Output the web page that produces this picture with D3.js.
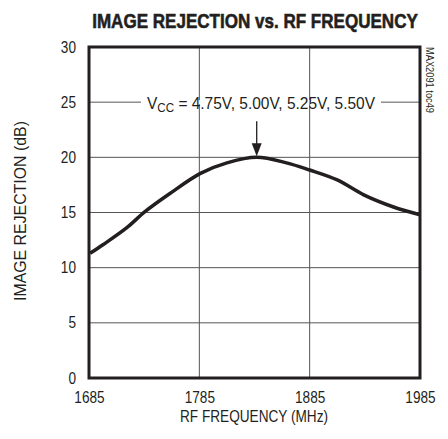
<!DOCTYPE html>
<html>
<head>
<meta charset="utf-8">
<script src="https://cdn.jsdelivr.net/npm/d3@7"></script>
<style>
  body { margin: 0; background: #fff; }
  svg text { font-family: "Liberation Sans Narrow", "Liberation Sans", Arial, sans-serif; fill: #231f20; }
</style>
</head>
<body>
<div id="chart"></div>
<script>
// data
const freqs = [1686, 1698, 1719, 1736, 1758, 1786, 1810, 1837, 1864, 1885, 1910, 1934, 1961, 1985];
const rejection = [11.3, 12.1, 13.6, 15.1, 16.7, 18.55, 19.5, 20.0, 19.5, 18.85, 17.95, 16.6, 15.5, 14.8];
const xTicks = [1685, 1785, 1885, 1985];
const yTicks = [0, 5, 10, 15, 20, 25, 30];

const w = 448, h = 439;
const margin = {left: 89, right: 28, top: 47, bottom: 61};

const svg = d3.select("#chart").append("svg")
  .attr("width", w).attr("height", h);

const xScale = d3.scaleLinear().domain([1685, 1985]).range([margin.left, w - margin.right]);
const yScale = d3.scaleLinear().domain([0, 30]).range([h - margin.bottom, margin.top]);

// squeeze text horizontally to look like the condensed face
function narrow(sel, k) {
  sel.each(function() {
    const len = this.getComputedTextLength();
    d3.select(this).attr("textLength", len * k).attr("lengthAdjust", "spacingAndGlyphs");
  });
}

// grid
svg.append("g").selectAll("line").data(xTicks.slice(1, -1)).enter().append("line")
  .attr("x1", d => xScale(d)).attr("x2", d => xScale(d))
  .attr("y1", yScale(30)).attr("y2", yScale(0))
  .attr("stroke", "#555").attr("stroke-width", 1);
svg.append("g").selectAll("line").data(yTicks.slice(1, -1)).enter().append("line")
  .attr("x1", xScale(1685)).attr("x2", xScale(1985))
  .attr("y1", d => yScale(d)).attr("y2", d => yScale(d))
  .attr("stroke", "#555").attr("stroke-width", 1);

// axes tick labels
const xAxis = d3.axisBottom(xScale).tickValues(xTicks).tickFormat(d3.format("d")).tickSize(0).tickPadding(14);
svg.append("g").attr("transform", "translate(0," + yScale(0) + ")").call(xAxis)
  .call(g => g.select(".domain").remove())
  .selectAll("text").style("font-size", "16px").attr("fill", "#231f20").call(narrow, 0.85);
const yAxis = d3.axisLeft(yScale).tickValues(yTicks).tickSize(0).tickPadding(13);
svg.append("g").attr("transform", "translate(" + xScale(1685) + ",0)").call(yAxis)
  .call(g => g.select(".domain").remove())
  .selectAll("text").style("font-size", "16px").attr("fill", "#231f20").call(narrow, 0.85);

// annotation
const labelY = yScale(25);
const annot = svg.append("text")
  .attr("x", 261).attr("y", labelY + 7)
  .attr("text-anchor", "middle").style("font-size", "16px");
annot.append("tspan").text("V");
annot.append("tspan").attr("dy", 3).style("font-size", "12px").text("CC");
annot.append("tspan").attr("dy", -3).text(" = 4.75V, 5.00V, 5.25V, 5.50V");
annot.attr("textLength", 228).attr("lengthAdjust", "spacingAndGlyphs");
svg.insert("rect", () => annot.node())
  .attr("x", 261 - 120).attr("y", labelY - 2).attr("width", 240).attr("height", 4)
  .attr("fill", "#fff");

// arrow
const ax = xScale(1837);
svg.append("line").attr("x1", ax).attr("x2", ax)
  .attr("y1", labelY + 19).attr("y2", yScale(20) - 12)
  .attr("stroke", "#231f20").attr("stroke-width", 1.3);
svg.append("path")
  .attr("d", `M${ax - 5},${yScale(20) - 14} L${ax + 5},${yScale(20) - 14} L${ax},${yScale(20) - 1} Z`)
  .attr("fill", "#231f20");

// curve
const line = d3.line().x((d, i) => xScale(freqs[i])).y(d => yScale(d)).curve(d3.curveCatmullRom);
svg.append("path").datum(rejection)
  .attr("d", line)
  .attr("fill", "none").attr("stroke", "#231f20").attr("stroke-width", 3.5);

// frame
svg.append("rect")
  .attr("x", xScale(1685)).attr("y", yScale(30))
  .attr("width", xScale(1985) - xScale(1685)).attr("height", yScale(0) - yScale(30))
  .attr("fill", "none").attr("stroke", "#231f20").attr("stroke-width", 3);

// titles
const title = svg.append("text").attr("text-anchor", "middle")
  .style("font-size", "21px").style("font-weight", "bold")
  .attr("stroke", "#231f20").attr("stroke-width", 0.6)
  .text("IMAGE REJECTION vs. RF FREQUENCY");
const tk = 326 / title.node().getComputedTextLength();
title.attr("transform", "translate(255,28) scale(" + tk + ",1)");
svg.append("text").attr("x", 254).attr("y", 422).attr("text-anchor", "middle")
  .style("font-size", "16px")
  .attr("textLength", 148).attr("lengthAdjust", "spacingAndGlyphs")
  .text("RF FREQUENCY (MHz)");
svg.append("text").attr("transform", "translate(26,211) rotate(-90)").attr("text-anchor", "middle")
  .style("font-size", "16px")
  .attr("textLength", 180).attr("lengthAdjust", "spacingAndGlyphs")
  .text("IMAGE REJECTION (dB)");
svg.append("text").attr("transform", "translate(426,47) rotate(90)")
  .style("font-size", "10px")
  .attr("textLength", 66).attr("lengthAdjust", "spacingAndGlyphs")
  .text("MAX2091 toc49");
</script>
</body>
</html>
